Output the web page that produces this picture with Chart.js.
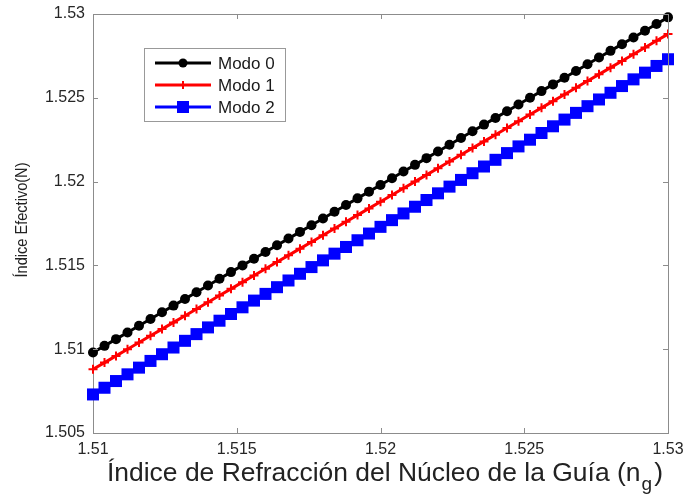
<!DOCTYPE html>
<html><head><meta charset="utf-8">
<script src="https://cdn.jsdelivr.net/npm/chart.js@4"></script>
<style>html,body{margin:0;padding:0;background:#fff;}#wrap{width:687px;height:502px;}</style>
</head><body><div id="wrap"><canvas id="c" width="687" height="502"></canvas></div>
<script>
const nucleoIndex = [1.5100,1.5104,1.5108,1.5112,1.5116,1.5120,1.5124,1.5128,1.5132,1.5136,1.5140,1.5144,1.5148,1.5152,1.5156,1.5160,1.5164,1.5168,1.5172,1.5176,1.5180,1.5184,1.5188,1.5192,1.5196,1.5200,1.5204,1.5208,1.5212,1.5216,1.5220,1.5224,1.5228,1.5232,1.5236,1.5240,1.5244,1.5248,1.5252,1.5256,1.5260,1.5264,1.5268,1.5272,1.5276,1.5280,1.5284,1.5288,1.5292,1.5296,1.5300];
const modo0 = [1.5098,1.5102,1.5106,1.5110,1.5114,1.5118,1.5122,1.5126,1.5130,1.5134,1.5138,1.5142,1.5146,1.5150,1.5154,1.5158,1.5162,1.5166,1.5170,1.5174,1.5178,1.5182,1.5186,1.5190,1.5194,1.5198,1.5202,1.5206,1.5210,1.5214,1.5218,1.5222,1.5226,1.5230,1.5234,1.5238,1.5242,1.5246,1.5250,1.5254,1.5258,1.5262,1.5266,1.5270,1.5274,1.5278,1.5282,1.5286,1.5290,1.5294,1.5298];
const modo1 = [1.5088,1.5092,1.5096,1.5100,1.5104,1.5108,1.5112,1.5116,1.5120,1.5124,1.5128,1.5132,1.5136,1.5140,1.5144,1.5148,1.5152,1.5156,1.5160,1.5164,1.5168,1.5172,1.5176,1.5180,1.5184,1.5188,1.5192,1.5196,1.5200,1.5204,1.5208,1.5212,1.5216,1.5220,1.5224,1.5228,1.5232,1.5236,1.5240,1.5244,1.5248,1.5252,1.5256,1.5260,1.5264,1.5268,1.5272,1.5276,1.5280,1.5284,1.5288];
const modo2 = [1.5073,1.5077,1.5081,1.5085,1.5089,1.5093,1.5097,1.5101,1.5105,1.5109,1.5113,1.5117,1.5121,1.5125,1.5129,1.5133,1.5137,1.5141,1.5145,1.5149,1.5153,1.5157,1.5161,1.5165,1.5169,1.5173,1.5177,1.5181,1.5185,1.5189,1.5193,1.5197,1.5201,1.5205,1.5209,1.5213,1.5217,1.5221,1.5225,1.5229,1.5233,1.5237,1.5241,1.5245,1.5249,1.5253,1.5257,1.5261,1.5265,1.5269,1.5273];
const xTicks = [1.51,1.515,1.52,1.525,1.53];
const yTicks = [1.505,1.51,1.515,1.52,1.525,1.53];
const seriesNames = ['Modo 0','Modo 1','Modo 2'];
const xTitleMain = 'Índice de Refracción del Núcleo de la Guía (n';
const xTitleSub = 'g';
const xTitleEnd = ')';
const yTitle = 'Índice Efectivo(N)';

const FONT = '"Liberation Sans", Arial, sans-serif';
const pts = arr => arr.map((v,i)=>({x:nucleoIndex[i], y:v}));
const fmt = v => String(+(+v).toFixed(4));

const decor = {
  id:'decor',
  afterDraw(chart){
    const ctx = chart.ctx, a = chart.chartArea, xs = chart.scales.x, ys = chart.scales.y;
    ctx.save();
    ctx.strokeStyle = '#8c8c8c'; ctx.lineWidth = 1;
    ctx.beginPath();
    ctx.moveTo(a.left+0.5, a.top+0.5); ctx.lineTo(a.right+0.5, a.top+0.5); ctx.lineTo(a.right+0.5, a.bottom+0.5);
    ctx.stroke();
    const tl = 5;
    ctx.beginPath();
    xTicks.forEach(v=>{ const p = Math.round(xs.getPixelForValue(v))+0.5;
      ctx.moveTo(p,a.bottom); ctx.lineTo(p,a.bottom-tl); ctx.moveTo(p,a.top); ctx.lineTo(p,a.top+tl); });
    yTicks.forEach(v=>{ const p = Math.round(ys.getPixelForValue(v))+0.5;
      ctx.moveTo(a.left,p); ctx.lineTo(a.left+tl,p); ctx.moveTo(a.right,p); ctx.lineTo(a.right-tl,p); });
    ctx.stroke();
    // legend
    const bx=144, by=48, bw=141, bh=73;
    ctx.fillStyle='#fff'; ctx.fillRect(bx,by,bw,bh);
    ctx.strokeStyle='#999'; ctx.strokeRect(bx+0.5,by+0.5,bw,bh);
    const rows=[63,85,107];
    chart.data.datasets.forEach((ds,i)=>{
      const y=rows[i];
      ctx.strokeStyle=ds.borderColor; ctx.lineWidth=3;
      ctx.beginPath(); ctx.moveTo(155,y); ctx.lineTo(211,y); ctx.stroke();
      ctx.fillStyle=ds.borderColor;
      if(i===0){ ctx.beginPath(); ctx.arc(183,y,4.5,0,Math.PI*2); ctx.fill(); }
      else if(i===1){ ctx.lineWidth=2; ctx.beginPath(); ctx.moveTo(183,y-4); ctx.lineTo(183,y+4); ctx.stroke(); }
      else { ctx.fillRect(177,y-6,12,12); }
      ctx.fillStyle='#1a1a1a'; ctx.font='17px '+FONT; ctx.textBaseline='middle'; ctx.textAlign='left';
      ctx.fillText(ds.label,218,y+1);
    });
    // x title
    ctx.fillStyle='#222222'; ctx.textBaseline='alphabetic'; ctx.textAlign='left';
    const fs=25, fss=18;
    ctx.font=fs+'px '+FONT;
    const w1=ctx.measureText(xTitleMain).width;
    ctx.font=fss+'px '+FONT;
    const w2=ctx.measureText(xTitleSub).width;
    ctx.font=fs+'px '+FONT;
    const w3=ctx.measureText(xTitleEnd).width;
    const total=w1+w2+w3+3;
    const sx=556/total;
    ctx.save();
    ctx.translate(107,481); ctx.scale(sx,1);
    ctx.fillText(xTitleMain,0,0);
    ctx.font=fss+'px '+FONT;
    ctx.fillText(xTitleSub,w1+1,9);
    ctx.font=fs+'px '+FONT;
    ctx.fillText(xTitleEnd,w1+w2+3,0);
    ctx.restore();
    // y title
    ctx.save();
    ctx.translate(27,220); ctx.rotate(-Math.PI/2);
    ctx.font='17px '+FONT; ctx.textAlign='left'; ctx.textBaseline='alphabetic';
    const wy=ctx.measureText(yTitle).width;
    ctx.scale(115/wy,1);
    ctx.fillText(yTitle,-wy/2,0);
    ctx.restore();
    ctx.restore();
  }
};

new Chart(document.getElementById('c'), {
  type:'line',
  data:{ datasets:[
    {label:seriesNames[0], data:pts(modo0), borderColor:'#000000', backgroundColor:'#000000', borderWidth:3,
     pointStyle:'circle', pointRadius:5, pointBorderWidth:0, clip:false},
    {label:seriesNames[1], data:pts(modo1), borderColor:'#ff0000', backgroundColor:'#ff0000', borderWidth:3,
     pointStyle:'cross', pointRadius:4.5, pointBorderWidth:2, pointBorderColor:'#ff0000', clip:false},
    {label:seriesNames[2], data:pts(modo2), borderColor:'#0000ff', backgroundColor:'#0000ff', borderWidth:3,
     pointStyle:'rect', pointRadius:8.5, pointBorderWidth:0, clip:false}
  ]},
  options:{
    responsive:false, animation:false, devicePixelRatio:1,
    layout:{padding:{top:14,right:19,left:0,bottom:0}},
    plugins:{legend:{display:false}, tooltip:{enabled:false}},
    elements:{line:{tension:0}},
    scales:{
      x:{type:'linear', min:1.51, max:1.53,
        afterBuildTicks:s=>{s.ticks=xTicks.map(v=>({value:v}));},
        afterFit:s=>{s.height=69; s.paddingLeft=0; s.paddingRight=0;},
        ticks:{callback:fmt, color:'#262626', font:{family:FONT,size:16}, padding:7, maxRotation:0, autoSkip:false},
        grid:{drawOnChartArea:false, drawTicks:false}, border:{color:'#8c8c8c', width:1}},
      y:{type:'linear', min:1.505, max:1.53,
        afterBuildTicks:s=>{s.ticks=yTicks.map(v=>({value:v}));},
        afterFit:s=>{s.width=93; s.paddingTop=0; s.paddingBottom=0;},
        ticks:{callback:fmt, color:'#262626', font:{family:FONT,size:16}, padding:8, autoSkip:false},
        grid:{drawOnChartArea:false, drawTicks:false}, border:{color:'#8c8c8c', width:1}}
    }
  },
  plugins:[decor]
});
</script></body></html>
